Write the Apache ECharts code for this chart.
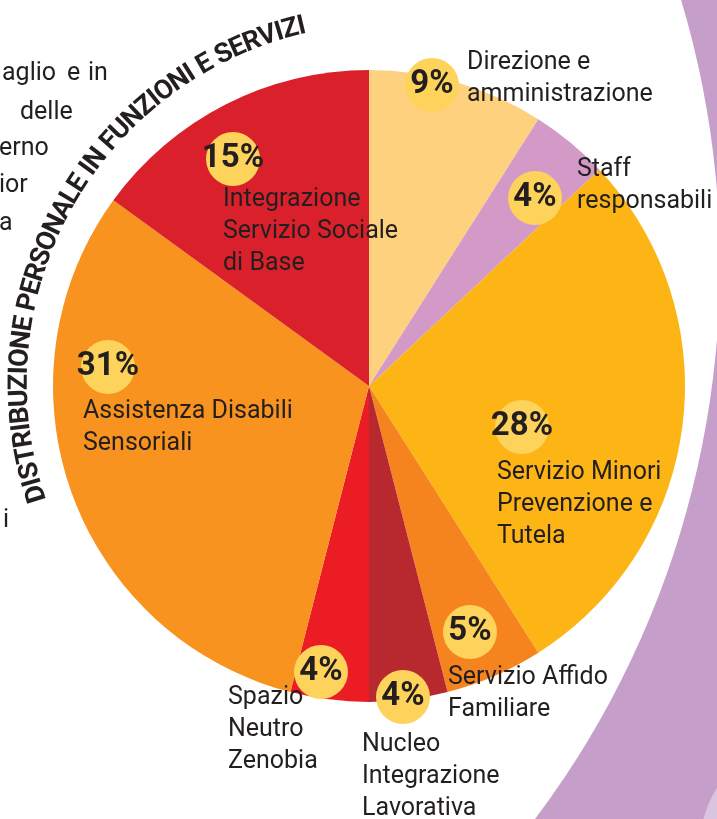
<!DOCTYPE html>
<html>
<head>
<meta charset="utf-8">
<style>
html, body { margin: 0; padding: 0; background: #fff; }
#main { width: 717px; height: 819px; }
</style>
<script src="https://cdn.jsdelivr.net/npm/echarts@6/dist/echarts.min.js"></script>
</head>
<body>
<div id="main"></div>
<script>
// dati
var categories = ['Direzione e\namministrazione', 'Staff\nresponsabili', 'Servizio Minori\nPrevenzione e\nTutela', 'Servizio Affido\nFamiliare', 'Nucleo\nIntegrazione\nLavorativa', 'Spazio\nNeutro\nZenobia', 'Assistenza Disabili\nSensoriali', 'Integrazione\nServizio Sociale\ndi Base'];
var percentages = [9, 4, 28, 5, 4, 4, 31, 15];
var titleText = 'DISTRIBUZIONE PERSONALE IN FUNZIONI E SERVIZI';
var sideWords = ['aglio', 'e', 'in', 'delle', 'erno', 'ior', 'a', 'i'];

// stile
var colors = ['#FED17F', '#D39AC7', '#FDB515', '#F5841F', '#B8282F', '#EC1C24', '#F7931E', '#DA212B'];
var textColor = '#231F20';
var font = 'Roboto';
var cx = 369, cy = 386, R = 316;
// posizione bolle (centro) e testi (angolo alto-sinistro), relativi al centro della torta
var bubbleOffset = [[63, -301], [166, -188], [153, 41], [101, 246], [34, 311], [-48, 286], [-261, -19], [-136, -227]];
var nameOffset = [[98, -339], [208, -232], [128, 71], [79, 276], [-7, 343], [-141, 296], [-286, 10], [-146, -202]];
// posizione frammenti di testo a sinistra [x, y]
var sidePos = [[2, 74], [67, 74], [88, 74], [20, 113], [-1, 149], [-1, 186], [-1, 224], [3, 521]];
var titleArc = { cx: cx + 17, cy: cy - 3, r: 366, from: 252.5, to: 346.7 };

var chart = echarts.init(document.getElementById('main'));

var pieData = categories.map(function (name, i) {
    return { name: name, value: percentages[i], itemStyle: { color: colors[i] } };
});

// titolo curvo, una lettera alla volta
var ctx = document.createElement('canvas').getContext('2d');
ctx.font = 'bold 27px ' + font;
var widths = titleText.split('').map(function (ch) { return ctx.measureText(ch).width; });
var centers = [], acc = 0;
widths.forEach(function (w) { centers.push(acc + w / 2); acc += w; });
var c0 = centers[0], c1 = centers[centers.length - 1];
var titleGraphics = titleText.split('').map(function (ch, i) {
    var deg = titleArc.from + (centers[i] - c0) / (c1 - c0) * (titleArc.to - titleArc.from);
    var a = deg * Math.PI / 180;
    return {
        type: 'text',
        x: titleArc.cx + titleArc.r * Math.sin(a),
        y: titleArc.cy - titleArc.r * Math.cos(a),
        rotation: -a,
        silent: true,
        style: { text: ch, fontSize: 27, fontWeight: 'bold', fontFamily: font, fill: textColor, align: 'center', verticalAlign: 'middle' }
    };
});

var sideGraphics = sideWords.map(function (w, i) {
    return {
        type: 'text', x: sidePos[i][0], y: sidePos[i][1], silent: true,
        style: { text: w, fontSize: 25, fontFamily: font, fill: textColor, align: 'left', verticalAlign: 'middle' }
    };
});

var option = {
    animation: false,
    graphic: [
        { type: 'rect', shape: { x: 0, y: 0, width: 717, height: 819 }, style: { fill: '#C59FC9' }, z: -10, silent: true },
        { type: 'circle', shape: { cx: -202, cy: 265, r: 922 }, style: { fill: '#ffffff' }, z: -9, silent: true },
        { type: 'circle', shape: { cx: 820, cy: 851, r: 121 }, style: { fill: '#DBC4DF' }, z: -9, silent: true }
    ].concat(titleGraphics, sideGraphics),
    series: [
        {
            // fette + bolle percentuali
            type: 'pie',
            center: [cx, cy],
            radius: R,
            startAngle: 90,
            avoidLabelOverlap: false,
            silent: true,
            z: 2,
            data: pieData,
            labelLine: { show: false },
            label: {
                position: 'inside',
                formatter: function (p) { return '{b|' + p.value + '%}'; },
                rich: {
                    b: {
                        backgroundColor: '#FED35B', width: 54, height: 54, borderRadius: 27,
                        align: 'center', lineHeight: 54, fontSize: 33, fontWeight: 'bold',
                        fontFamily: font, color: textColor
                    }
                }
            },
            labelLayout: function (p) {
                var o = bubbleOffset[p.dataIndex];
                return { x: cx + o[0], y: cy + o[1], align: 'center', verticalAlign: 'middle' };
            }
        },
        {
            // nomi
            type: 'pie',
            center: [cx, cy],
            radius: R,
            startAngle: 90,
            avoidLabelOverlap: false,
            silent: true,
            z: 3,
            data: percentages.map(function (v, i) { return { name: categories[i], value: v }; }),
            itemStyle: { color: 'rgba(0,0,0,0)' },
            labelLine: { show: false },
            label: {
                position: 'inside',
                formatter: '{b}',
                fontSize: 25,
                lineHeight: 32,
                fontFamily: font,
                color: textColor,
                align: 'left'
            },
            labelLayout: function (p) {
                var o = nameOffset[p.dataIndex];
                return { x: cx + o[0], y: cy + o[1], align: 'left', verticalAlign: 'top' };
            }
        }
    ]
};

chart.setOption(option);
</script>
</body>
</html>
